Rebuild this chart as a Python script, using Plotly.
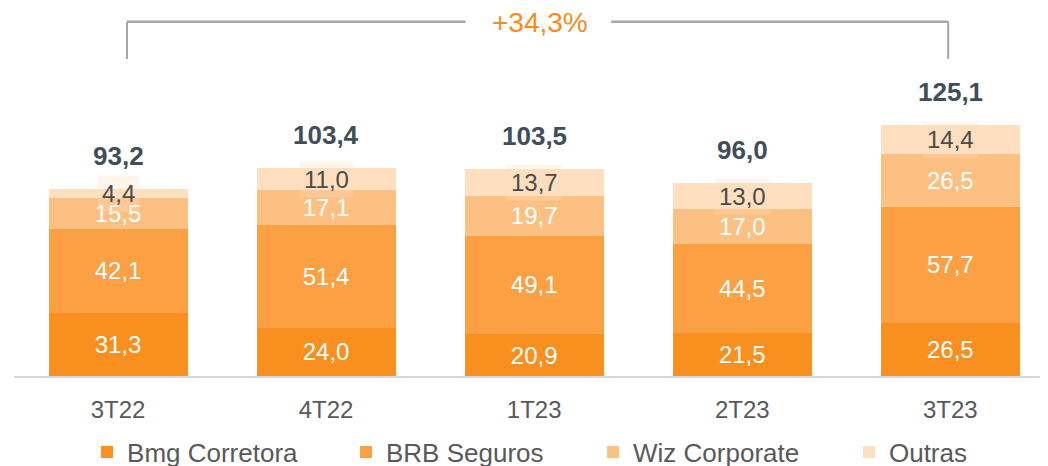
import plotly.graph_objects as go

categories = ["3T22", "4T22", "1T23", "2T23", "3T23"]
bmg = [31.3, 24.0, 20.9, 21.5, 26.5]
brb = [42.1, 51.4, 49.1, 44.5, 57.7]
wiz = [15.5, 17.1, 19.7, 17.0, 26.5]
outras = [4.4, 11.0, 13.7, 13.0, 14.4]
totals = [93.2, 103.4, 103.5, 96.0, 125.1]
growth_label = "+34,3%"

names = ["Bmg Corretora", "BRB Seguros", "Wiz Corporate", "Outras"]
colors = ["#F98F1E", "#FBA043", "#FDC083", "#FEE0C1"]
FONT = "Liberation Sans, Arial, sans-serif"

xs = list(range(len(categories)))
fig = go.Figure()
series = [bmg, brb, wiz, outras]
legend_ids = ["legend", "legend2", "legend3", "legend4"]
for i, (nm, vals, col) in enumerate(zip(names, series, colors)):
    show_text = i < 3
    fig.add_trace(go.Bar(
        x=xs, y=vals, name=nm, marker=dict(color=col, line=dict(width=0)),
        width=0.668, legend=legend_ids[i],
        text=[f"{v:.1f}".replace(".", ",") for v in vals] if show_text else None,
        textposition="inside" if show_text else "none",
        insidetextanchor="middle", constraintext="none", textangle=0,
        textfont=dict(color="white", size=24, family=FONT),
        hoverinfo="skip",
    ))

# Outras labels with faint box
for xi, a, b, c, d in zip(xs, bmg, brb, wiz, outras):
    base = a + b + c
    fig.add_annotation(x=xi, y=base + d / 2, text=f"{d:.1f}".replace(".", ","),
                       showarrow=False, font=dict(size=24, color="#4A4A4A", family=FONT),
                       bgcolor="rgba(253,223,191,0.3)", borderpad=4,
                       xanchor="center", yanchor="middle")

# totals
for xi, t, a, b, c, d in zip(xs, totals, bmg, brb, wiz, outras):
    top = a + b + c + d
    fig.add_annotation(x=xi, y=top, text=f"<b>{t:.1f}</b>".replace(".", ","),
                       showarrow=False, font=dict(size=26, color="#3F4E58", family=FONT),
                       xanchor="center", yanchor="bottom", yshift=16)

# bracket
lc = "#A6A6A6"
y_top = 176.5
y_bot = 158.0
fig.add_shape(type="line", x0=0.043, x1=0.043, y0=y_bot, y1=y_top, line=dict(color=lc, width=2))
fig.add_shape(type="line", x0=3.99, x1=3.99, y0=y_bot, y1=y_top, line=dict(color=lc, width=2))
fig.add_shape(type="line", x0=0.043, x1=1.67, y0=y_top, y1=y_top, line=dict(color=lc, width=2.5))
fig.add_shape(type="line", x0=2.37, x1=3.99, y0=y_top, y1=y_top, line=dict(color=lc, width=2.5))
fig.add_annotation(x=2.03, y=y_top, text=growth_label, showarrow=False,
                   font=dict(size=28, color="#F98C1A", family=FONT),
                   xanchor="center", yanchor="middle", yshift=-1)

leg_common = dict(orientation="h", xanchor="left", y=-0.2065, yanchor="middle",
                  font=dict(size=26, color="#595959", family=FONT),
                  itemclick=False, itemdoubleclick=False, bgcolor="rgba(0,0,0,0)")
leg_x = [0.0701, 0.3186, 0.5557, 0.8013]

fig.update_layout(
    barmode="stack",
    width=1048, height=466,
    margin=dict(l=6, r=0, t=0, b=98, autoexpand=False),
    plot_bgcolor="white", paper_bgcolor="white",
    font=dict(family=FONT, color="#595959"),
    showlegend=True,
    legend=dict(x=leg_x[0], **leg_common),
    legend2=dict(x=leg_x[1], **leg_common),
    legend3=dict(x=leg_x[2], **leg_common),
    legend4=dict(x=leg_x[3], **leg_common),
    xaxis=dict(range=[-0.5, 4.508], tickmode="array", tickvals=xs, ticktext=categories,
               showgrid=False, zeroline=False, showline=True, linecolor="#D9D9D9", linewidth=2,
               ticks="outside", ticklen=11, tickcolor="rgba(0,0,0,0)",
               tickfont=dict(size=24, color="#595959", family=FONT)),
    yaxis=dict(range=[0, 183.4], visible=False, showgrid=False, zeroline=False),
)

fig.write_html("out.html")
